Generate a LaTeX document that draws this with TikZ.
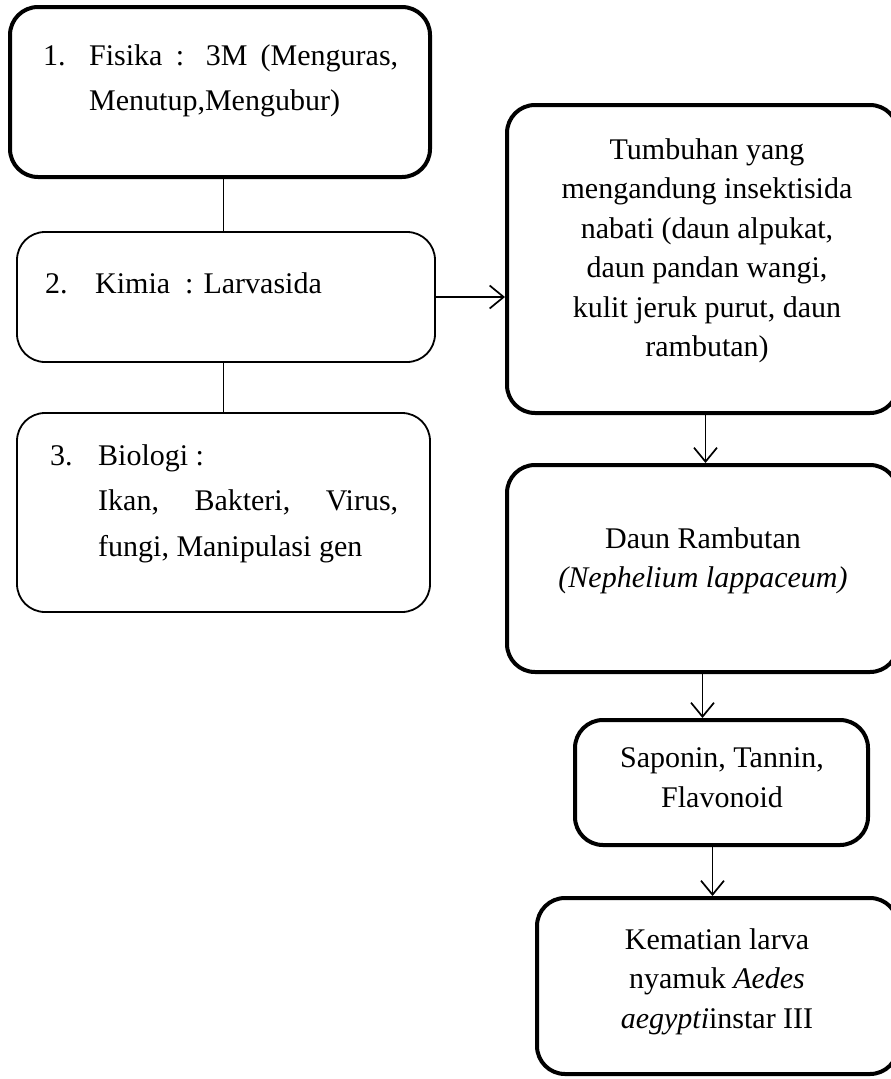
\documentclass[tikz,border=0pt]{standalone}
\usepackage{fontspec}
\setmainfont{Liberation Serif}
\usepackage{array}
\usepackage{tikz}
\usetikzlibrary{positioning}
\usetikzlibrary{arrows.meta}
\tikzset{box/.style={draw, rounded corners=28pt, line width=4pt, inner sep=0pt}}
\tikzset{thinbox/.style={box, line width=1.8pt}}
\tikzset{conn/.style={line width=1.7pt}}
\tikzset{arrow/.style={conn, -{Straight Barb[length=14pt,width=23pt,line width=1.7pt]}}}
\tikzset{lefttxt/.style={anchor=north west, inner sep=0pt, font=\fontsize{30}{45.5}\selectfont}}
\tikzset{righttxt/.style={align=center, inner sep=0pt, font=\fontsize{30}{39.5}\selectfont}}

\begin{document}
\begin{tikzpicture}[x=1pt,y=-1pt]
\useasboundingbox (0,0) rectangle (891,1079);
% left column
\node[box, minimum width=420pt, minimum height=170pt] (box1) at (220,92) {};
\node[thinbox, minimum width=418pt, minimum height=130pt] (box2) at (226,297) {};
\node[thinbox, minimum width=413pt, minimum height=199pt] (box3) at (223.5,512.5) {};
\node[lefttxt] (t1) at (43,33.15) {\begin{tabular}{@{}p{46pt}@{}p{309pt}@{}}
1. & Fisika : 3M (Menguras,\linebreak Menutup,Mengubur)\end{tabular}};
\node[lefttxt] (t2) at (45,261.15) {\begin{tabular}{@{}p{50pt}@{}p{300pt}@{}}
2. & Kimia~~: Larvasida\end{tabular}};
\node[lefttxt] (t3) at (50,433.15) {\begin{tabular}{@{}p{48pt}@{}p{300pt}@{}}
3. & Biologi :\newline Ikan, Bakteri, Virus,\linebreak fungi, Manipulasi gen\end{tabular}};
% right column
\node[box, minimum width=391pt, minimum height=308pt] (box4) at (702.5,259) {};
\node[box, minimum width=391pt, minimum height=207pt] (box5) at (702.5,568.5) {};
\node[box, minimum width=293pt, minimum height=125pt] (box6) at (721.5,782.5) {};
\node[box, minimum width=361pt, minimum height=176pt] (box7) at (717.5,986) {};
\node[righttxt] (t4) at (707,251) {Tumbuhan yang\\mengandung insektisida\\nabati (daun alpukat,\\daun pandan wangi,\\kulit jeruk purut, daun\\rambutan)};
\node[righttxt] (t5) at (703,561) {Daun Rambutan\\\textit{(Nephelium lappaceum)}};
\node[righttxt] (t6) at (722,777.5) {Saponin, Tannin,\\Flavonoid};
\node[righttxt] (t7) at (717,981.5) {Kematian larva\\nyamuk \textit{Aedes}\\\textit{aegypti}instar III};
% connectors
\draw[conn] (box1.south -| box3.north) -- (box2.north -| box3.north);
\draw[conn] (box2.south -| box3.north) -- (box3.north);
\draw[arrow] (box2.east) -- (box2.east -| box4.west);
\draw[arrow] ([xshift=3pt]box4.south) -- ([xshift=3pt]box5.north);
\draw[arrow] (box5.south) -- (box5.south |- box6.north);
\draw[arrow] ([xshift=-9pt]box6.south) -- ([xshift=-9pt]box6.south |- box7.north);
\end{tikzpicture}
\end{document}
